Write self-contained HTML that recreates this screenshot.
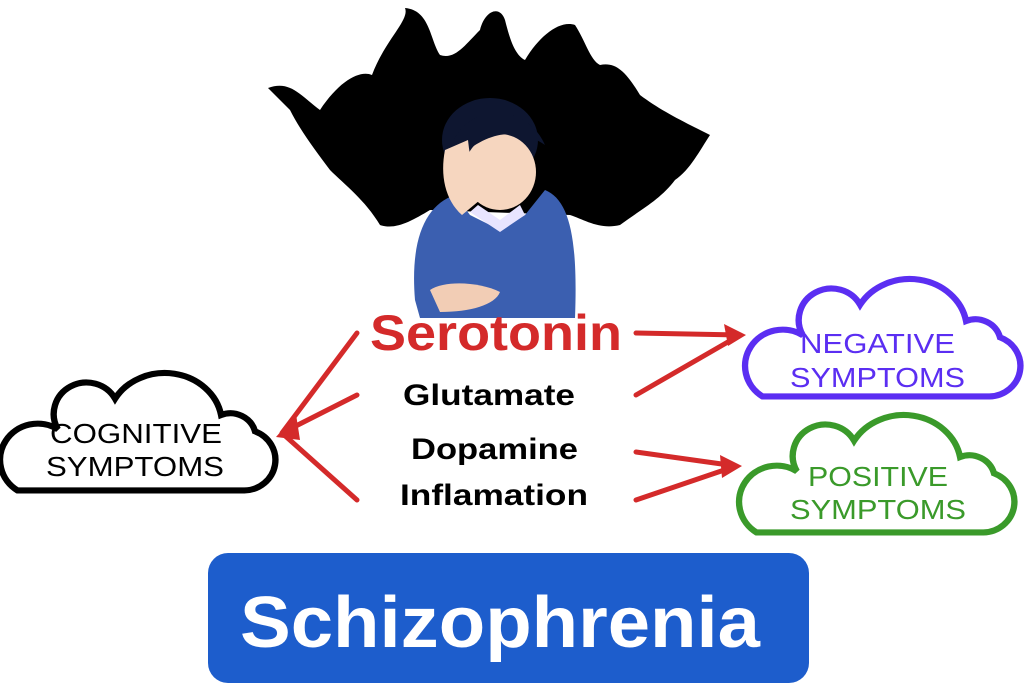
<!DOCTYPE html>
<html><head><meta charset="utf-8"><style>
html,body{margin:0;padding:0;background:#fff;width:1024px;height:688px;overflow:hidden}
svg{display:block}
</style></head><body>
<svg width="1024" height="688" viewBox="0 0 1024 688" xmlns="http://www.w3.org/2000/svg" font-family="Liberation Sans, sans-serif">
<defs>
<path id="cloud" d="M26,124 H240 A30,30 0 0 0 250,66 A24,24 0 0 0 218,50 A54,50 0 0 0 118,34 A30,30 0 0 0 64,64 A32,32 0 0 0 26,124 Z"/>
</defs>
<!-- shadow silhouette -->
<g fill="#000">
<path d="M268,88 C290,80 300,95 320,110 C340,80 360,70 372,75 C385,40 410,20 405,8 C430,10 430,40 440,55 C455,60 465,45 480,30 C485,10 500,5 505,20 C510,40 515,55 525,60 C540,35 560,20 575,25 C585,40 590,60 600,65 C615,62 625,70 640,95 C660,110 680,120 710,135 C700,150 690,170 675,180 C660,200 640,210 620,225 C600,230 585,220 570,215 L430,210 C410,222 395,230 380,225 C365,200 345,185 330,170 C315,150 300,130 290,110 Z"/>
</g>
<!-- person -->
<ellipse cx="490" cy="140" rx="48" ry="42" fill="#0e1630"/>
<ellipse cx="500" cy="172" rx="36" ry="38" fill="#f6d6bf"/>
<path d="M452,145 C465,105 525,100 545,145 C520,128 490,130 462,155 Z" fill="#0e1630"/>
<path d="M415,300 C410,240 425,205 455,195 L470,215 L500,230 L525,215 L545,190 C570,200 578,240 575,318 L420,318 Z" fill="#3b5fb0"/>
<path d="M470,212 L500,232 L525,215 L520,205 L500,220 L478,205 Z" fill="#e8e4ff"/>
<path d="M445,150 C440,175 445,200 462,215 L480,200 C475,180 470,160 468,140 Z" fill="#f6d6bf"/>
<path d="M430,290 C445,280 480,282 500,292 C495,305 470,312 440,312 Z" fill="#f2cdb5"/>
<!-- text -->
<text x="370" y="350" font-size="50" font-weight="bold" fill="#d42a2a" textLength="252" lengthAdjust="spacingAndGlyphs">Serotonin</text>
<text x="403" y="405" font-size="30" font-weight="bold" fill="#000" textLength="172" lengthAdjust="spacingAndGlyphs">Glutamate</text>
<text x="411" y="459" font-size="30" font-weight="bold" fill="#000" textLength="167" lengthAdjust="spacingAndGlyphs">Dopamine</text>
<text x="400" y="505" font-size="30" font-weight="bold" fill="#000" textLength="188" lengthAdjust="spacingAndGlyphs">Inflamation</text>
<!-- arrows -->
<g stroke="#d42a2a" stroke-width="5" fill="none" stroke-linecap="round">
<path d="M357,333 L282,433 M357,395 L282,433 M357,500 L282,433"/>
<path d="M636,333 L740,335 M636,395 L740,335"/>
<path d="M636,452 L736,466 M636,500 L736,466"/>
</g>
<polygon points="276,437 296,414 300,440" fill="#d42a2a"/>
<polygon points="746,335 724,324 728,346" fill="#d42a2a"/>
<polygon points="742,466 720,455 722,478" fill="#d42a2a"/>
<!-- clouds -->
<g transform="translate(-10,364) scale(1.06,1.02)"><use href="#cloud" fill="none" stroke="#000" stroke-width="6"/></g>
<g transform="translate(735,270) scale(1.06,1.02)"><use href="#cloud" fill="none" stroke="#5b2ef2" stroke-width="6"/></g>
<g transform="translate(729,406) scale(1.06,1.02)"><use href="#cloud" fill="none" stroke="#3a9a2a" stroke-width="6"/></g>
<g font-size="28" lengthAdjust="spacingAndGlyphs">
<text x="50" y="443" fill="#000" textLength="172" lengthAdjust="spacingAndGlyphs">COGNITIVE</text>
<text x="46" y="476" fill="#000" textLength="178" lengthAdjust="spacingAndGlyphs">SYMPTOMS</text>
<text x="800" y="353" fill="#5b2ef2" textLength="155" lengthAdjust="spacingAndGlyphs">NEGATIVE</text>
<text x="790" y="387" fill="#5b2ef2" textLength="175" lengthAdjust="spacingAndGlyphs">SYMPTOMS</text>
<text x="808" y="486" fill="#3a9a2a" textLength="140" lengthAdjust="spacingAndGlyphs">POSITIVE</text>
<text x="790" y="519" fill="#3a9a2a" textLength="176" lengthAdjust="spacingAndGlyphs">SYMPTOMS</text>
</g>
<!-- title box -->
<rect x="208" y="553" width="601" height="130" rx="20" fill="#1d5dcc"/>
<text x="240" y="647" font-size="72" font-weight="bold" fill="#fff" textLength="520" lengthAdjust="spacingAndGlyphs">Schizophrenia</text>
</svg>
</body></html>
